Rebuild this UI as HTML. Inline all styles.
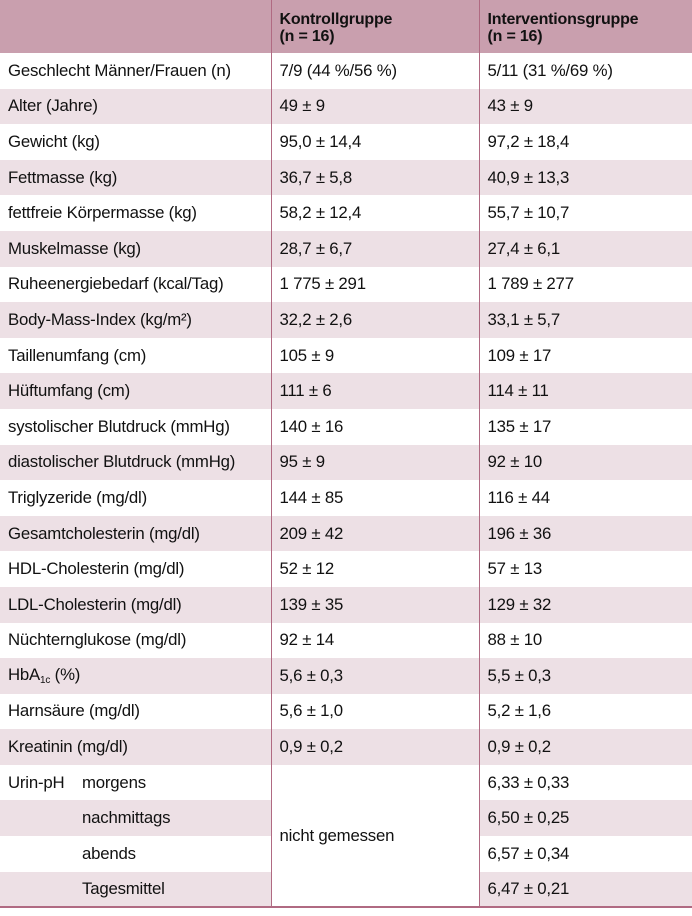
<!DOCTYPE html>
<html><head><meta charset="utf-8"><style>
body{margin:0;background:#fff;width:692px;height:916px;overflow:hidden}
table{border-collapse:collapse;width:692px;font-family:"Liberation Sans",sans-serif;font-size:16.8px;color:#111;table-layout:fixed}
td{height:35.6px;padding:0 0 0 8px;box-sizing:border-box;vertical-align:middle;white-space:nowrap;letter-spacing:-0.2px}
td.c{border-left:1px solid #b06a82}
tr.h td{background:#c99fae;height:53px;font-weight:bold;line-height:17px;padding-top:2px;font-size:16px}
tr.a td{background:#ede0e5}
tr.last td{border-bottom:2px solid #b06a82}
.s{display:inline-block;width:74px}
sub{font-size:10px;vertical-align:-3px}
</style></head><body>
<table>
<colgroup><col style="width:271px"><col style="width:208px"><col style="width:213px"></colgroup>
<tr class="h"><td></td><td class="c">Kontrollgruppe<br>(n = 16)</td><td class="c">Interventionsgruppe<br>(n = 16)</td></tr>
<tr><td>Geschlecht Männer/Frauen (n)</td><td class="c">7/9 (44 %/56 %)</td><td class="c">5/11 (31 %/69 %)</td></tr>
<tr class="a"><td>Alter (Jahre)</td><td class="c">49 ± 9</td><td class="c">43 ± 9</td></tr>
<tr><td>Gewicht (kg)</td><td class="c">95,0 ± 14,4</td><td class="c">97,2 ± 18,4</td></tr>
<tr class="a"><td>Fettmasse (kg)</td><td class="c">36,7 ± 5,8</td><td class="c">40,9 ± 13,3</td></tr>
<tr><td>fettfreie Körpermasse (kg)</td><td class="c">58,2 ± 12,4</td><td class="c">55,7 ± 10,7</td></tr>
<tr class="a"><td>Muskelmasse (kg)</td><td class="c">28,7 ± 6,7</td><td class="c">27,4 ± 6,1</td></tr>
<tr><td>Ruheenergiebedarf (kcal/Tag)</td><td class="c">1 775 ± 291</td><td class="c">1 789 ± 277</td></tr>
<tr class="a"><td>Body-Mass-Index (kg/m²)</td><td class="c">32,2 ± 2,6</td><td class="c">33,1 ± 5,7</td></tr>
<tr><td>Taillenumfang (cm)</td><td class="c">105 ± 9</td><td class="c">109 ± 17</td></tr>
<tr class="a"><td>Hüftumfang (cm)</td><td class="c">111 ± 6</td><td class="c">114 ± 11</td></tr>
<tr><td>systolischer Blutdruck (mmHg)</td><td class="c">140 ± 16</td><td class="c">135 ± 17</td></tr>
<tr class="a"><td>diastolischer Blutdruck (mmHg)</td><td class="c">95 ± 9</td><td class="c">92 ± 10</td></tr>
<tr><td>Triglyzeride (mg/dl)</td><td class="c">144 ± 85</td><td class="c">116 ± 44</td></tr>
<tr class="a"><td>Gesamtcholesterin (mg/dl)</td><td class="c">209 ± 42</td><td class="c">196 ± 36</td></tr>
<tr><td>HDL-Cholesterin (mg/dl)</td><td class="c">52 ± 12</td><td class="c">57 ± 13</td></tr>
<tr class="a"><td>LDL-Cholesterin (mg/dl)</td><td class="c">139 ± 35</td><td class="c">129 ± 32</td></tr>
<tr><td>Nüchternglukose (mg/dl)</td><td class="c">92 ± 14</td><td class="c">88 ± 10</td></tr>
<tr class="a"><td>HbA<sub>1c</sub> (%)</td><td class="c">5,6 ± 0,3</td><td class="c">5,5 ± 0,3</td></tr>
<tr><td>Harnsäure (mg/dl)</td><td class="c">5,6 ± 1,0</td><td class="c">5,2 ± 1,6</td></tr>
<tr class="a"><td>Kreatinin (mg/dl)</td><td class="c">0,9 ± 0,2</td><td class="c">0,9 ± 0,2</td></tr>
<tr><td><span class="s">Urin-pH</span>morgens</td><td class="c" rowspan="4" style="background:#fff;border-bottom:2px solid #b06a82">nicht gemessen</td><td class="c">6,33 ± 0,33</td></tr>
<tr class="a"><td><span class="s"></span>nachmittags</td><td class="c">6,50 ± 0,25</td></tr>
<tr><td><span class="s"></span>abends</td><td class="c">6,57 ± 0,34</td></tr>
<tr class="a last"><td><span class="s"></span>Tagesmittel</td><td class="c">6,47 ± 0,21</td></tr>
</table>
</body></html>
